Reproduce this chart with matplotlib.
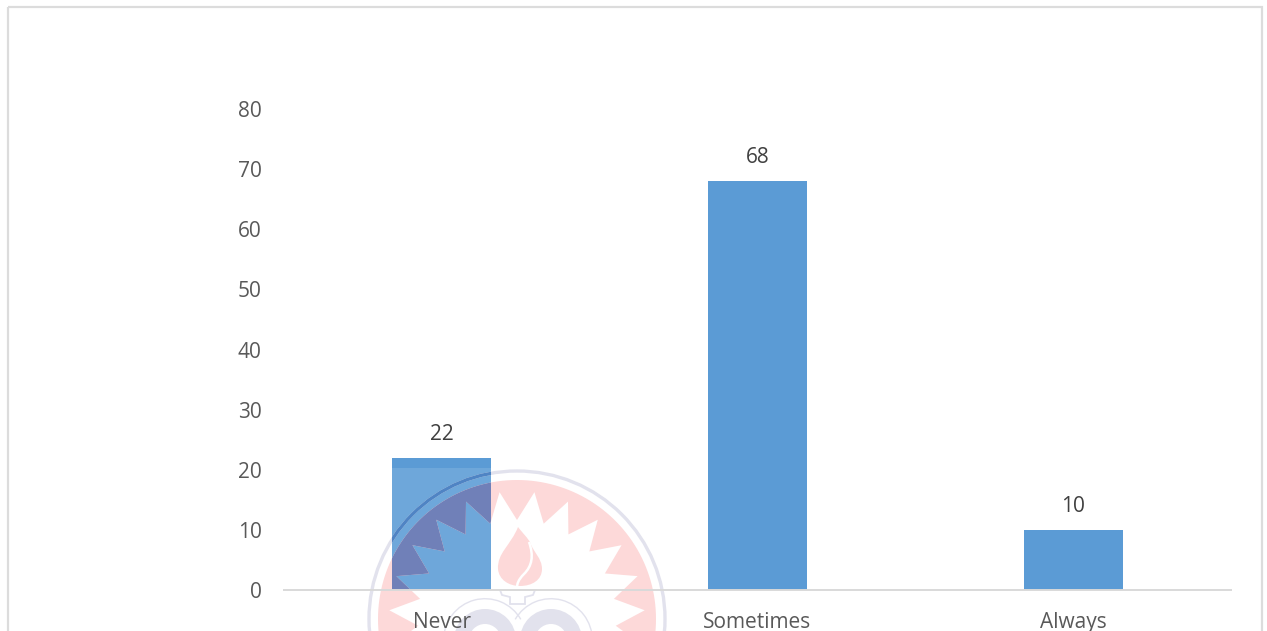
import numpy as np
import matplotlib
matplotlib.use("Agg")
import matplotlib.pyplot as plt
from matplotlib.patches import PathPatch, Circle, Rectangle, Wedge
from matplotlib.path import Path
from matplotlib.transforms import Affine2D

plt.rcParams['font.family'] = ['Open Sans', 'DejaVu Sans']

categories = ["Never", "Sometimes", "Always"]
values = [22, 68, 10]
y_ticks = [0, 10, 20, 30, 40, 50, 60, 70, 80]

W, H = 1267, 631
BLUE = '#5b9bd5'
PINK = '#fdd9d9'
LAV = '#e2e2ed'

fig = plt.figure(figsize=(W / 100, H / 100), dpi=100, facecolor='white')
ax = fig.add_axes([284 / W, (H - 590) / H, (1231 - 284) / W, (590 - 109) / H])

bars = ax.bar(range(len(values)), values, width=0.314, color=BLUE, zorder=1)
ax.set_xlim(-0.5, 2.5)
ax.set_ylim(0, 80)
ax.set_xticks(range(len(categories)))
ax.set_xticklabels(categories)
ax.set_yticks(y_ticks)
ax.set_axisbelow(False)  # tick labels have to stay on top of the watermark
ax.tick_params(length=0, labelsize=15, labelcolor='#595959')
ax.tick_params(axis='x', pad=16)
ax.tick_params(axis='y', pad=16)
for s in ['top', 'left', 'right']:
    ax.spines[s].set_visible(False)
ax.spines['bottom'].set_color('#d9d9d9')
ax.spines['bottom'].set_linewidth(1.4)

for i, v in enumerate(values):
    ax.annotate(str(v), (i, v), xytext=(0, 17), textcoords='offset points',
                ha='center', va='center', fontsize=15, color='#404040', zorder=3)

# frame around the chart, runs off the bottom of the page
px = Affine2D().scale(1, -1).translate(0, H)
fig.add_artist(Rectangle((8, 7), 1254, 700, transform=px, fill=False,
                         ec='#dcdcdc', lw=1.6))

# ---- watermark seal, sits over the bars but under the axis and text ----
cx, cy = 517, 619
first_bar = bars[0]


def add(patch, clip=False):
    patch.set_transform(px)
    ax.add_patch(patch)
    if clip:
        patch.set_clip_path(first_bar)
    else:
        patch.set_clip_on(False)
    return patch


def ring_path(r_disk, r_tip, r_notch, n=23):
    t = np.linspace(0, 2 * np.pi, 181)
    disk = np.column_stack([cx + r_disk * np.cos(t), cy + r_disk * np.sin(t)])
    a = np.arange(2 * n) * np.pi / n - np.pi / 2
    r = np.where(np.arange(2 * n) % 2 == 0, r_tip, r_notch)
    star = np.column_stack([cx + r * np.cos(-a), cy + r * np.sin(-a)])
    star = np.vstack([star, star[0]])
    return Path.make_compound_path(Path(disk, closed=True), Path(star, closed=True))


sun = ring_path(139, 128, 99)
add(PathPatch(sun, fc=PINK, ec='none', zorder=2))
add(Rectangle((360, 468), 320, 170, fc='white', ec='none', alpha=0.12, zorder=1.5), clip=True)
add(PathPatch(sun, fc='#7080b8', ec='none', zorder=2.1), clip=True)
add(Circle((cx, cy), 148, fill=False, ec=LAV, lw=2.4, zorder=2))
add(Circle((cx, cy), 148, fill=False, ec='#4f84c4', lw=2.4, zorder=2.1), clip=True)

# flame
flame = Path(
    [(518, 527), (511, 545), (497, 553), (498, 569), (499, 580), (509, 586), (520, 586),
     (532, 586), (542, 580), (542, 569), (542, 558), (533, 552), (530, 542),
     (526, 536), (521, 531), (518, 527)],
    [Path.MOVETO, Path.CURVE4, Path.CURVE4, Path.CURVE4, Path.CURVE4, Path.CURVE4, Path.CURVE4,
     Path.CURVE4, Path.CURVE4, Path.CURVE4, Path.CURVE4, Path.CURVE4, Path.CURVE4,
     Path.CURVE4, Path.CURVE4, Path.CURVE4])
swoosh = Path([(529, 542), (534, 556), (532, 566), (524, 574), (518, 580), (517, 584), (517, 588)],
              [Path.MOVETO, Path.CURVE4, Path.CURVE4, Path.CURVE4, Path.CURVE4, Path.CURVE4, Path.CURVE4])
add(PathPatch(flame, fc=PINK, ec='none', zorder=2))
add(PathPatch(swoosh, fc='none', ec='white', lw=1.8, zorder=2))

# pedestal and the two lavender loops at the bottom
pedestal = Path([(500, 590), (535, 590), (533, 595), (525, 597), (525, 604), (510, 604), (510, 597), (502, 595), (500, 590)])
add(PathPatch(pedestal, fc='white', ec=LAV, lw=1.3, zorder=2))
add(Wedge((485, 640), 31, 180, 360, width=15, fc=LAV, ec='none', zorder=2))
add(Wedge((551, 640), 31, 180, 360, width=15, fc=LAV, ec='none', zorder=2))
add(Wedge((485, 640), 42, 180, 330, width=1.4, fc=LAV, ec='none', zorder=2))
add(Wedge((551, 640), 42, 210, 360, width=1.4, fc=LAV, ec='none', zorder=2))

fig.savefig("out.png", dpi=100)
